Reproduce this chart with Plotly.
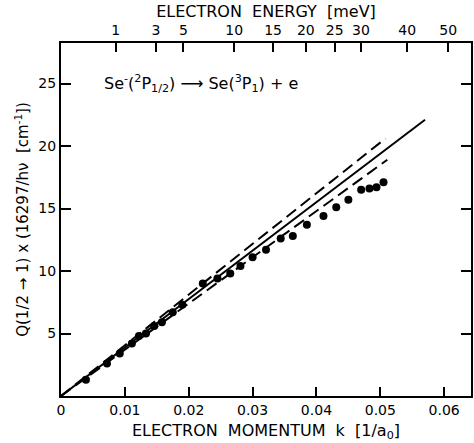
import numpy as np
import plotly.graph_objects as go

# Data
k_pts = [0.0039, 0.0072, 0.0092, 0.0111, 0.0122, 0.0133, 0.0146, 0.0158, 0.0175, 0.0190,
         0.0222, 0.0245, 0.0265, 0.0281, 0.0300, 0.0321, 0.0344, 0.0363, 0.0385, 0.0411,
         0.0431, 0.0450, 0.0470, 0.0483, 0.0494, 0.0505]
q_pts = [1.3, 2.6, 3.4, 4.2, 4.8, 5.0, 5.6, 5.9, 6.7, 7.3,
         9.0, 9.4, 9.8, 10.4, 11.1, 11.7, 12.6, 12.8, 13.7, 14.4,
         15.1, 15.7, 16.5, 16.6, 16.7, 17.1]

solid_k = [0.0, 0.0570]
solid_q = [0.0, 22.1]
dash_hi_k = [0.0, 0.0508]
dash_hi_q = [0.0, 20.6]
dash_lo_k = [0.0, 0.0511]
dash_lo_q = [0.0, 18.9]

energy_ticks = [1, 3, 5, 10, 15, 20, 25, 30, 40, 50]  # meV
HARTREE_MEV = 27211.4
energy_pos = [float(np.sqrt(2 * e / HARTREE_MEV)) for e in energy_ticks]

x_ticks = [0, 0.01, 0.02, 0.03, 0.04, 0.05, 0.06]
x_labels = ["0", "0.01", "0.02", "0.03", "0.04", "0.05", "0.06"]
y_ticks = [5, 10, 15, 20, 25]

FONT = "DejaVu Sans"
XR = [0, 0.0642]
YR = [0, 28.24]

fig = go.Figure()
fig.add_trace(go.Scatter(x=solid_k, y=solid_q, mode="lines",
                         line=dict(color="black", width=2), showlegend=False))
fig.add_trace(go.Scatter(x=dash_hi_k, y=dash_hi_q, mode="lines",
                         line=dict(color="black", width=2, dash="12px,6px"), showlegend=False))
fig.add_trace(go.Scatter(x=dash_lo_k, y=dash_lo_q, mode="lines",
                         line=dict(color="black", width=2, dash="12px,6px"), showlegend=False))
fig.add_trace(go.Scatter(x=k_pts, y=q_pts, mode="markers",
                         marker=dict(color="black", size=8), showlegend=False))
# invisible trace to activate the top axis
fig.add_trace(go.Scatter(x=[0], y=[0], xaxis="x2", mode="markers",
                         marker=dict(opacity=0), showlegend=False, hoverinfo="skip"))

fig.update_layout(
    width=474, height=443,
    margin=dict(l=61, r=1, t=43, b=47),
    plot_bgcolor="white", paper_bgcolor="white",
    font=dict(family=FONT, color="black", size=14),
    xaxis=dict(range=XR, tickvals=x_ticks, ticktext=x_labels,
               ticks="inside", ticklen=9, tickwidth=1.5, tickcolor="black",
               showline=True, linecolor="black", linewidth=2,
               showgrid=False, zeroline=False,
               tickfont=dict(size=14, family=FONT),
               title=dict(text="ELECTRON  MOMENTUM  k  [1/a<sub>0</sub>]",
                          font=dict(size=16, family=FONT), standoff=8)),
    xaxis2=dict(range=XR, overlaying="x", side="top", tickvals=energy_pos,
                ticktext=[str(e) for e in energy_ticks],
                ticks="inside", ticklen=9, tickwidth=1.5, tickcolor="black",
                showline=True, linecolor="black", linewidth=2,
                showgrid=False, zeroline=False,
                tickfont=dict(size=14, family=FONT),
                title=dict(text="ELECTRON  ENERGY  [meV]",
                           font=dict(size=16, family=FONT), standoff=1)),
    yaxis=dict(range=YR, tickvals=y_ticks, ticks="inside", ticklen=10,
               tickwidth=1.5, tickcolor="black", mirror="ticks",
               showline=True, linecolor="black", linewidth=2,
               showgrid=False, zeroline=False,
               tickfont=dict(size=14, family=FONT),
               title=dict(text="Q(1/2 \u2192 1) x (16297/h\u03bd  [cm<sup>-1</sup>])",
                          font=dict(size=15, family=FONT), standoff=6)),
    annotations=[dict(xref="paper", yref="paper", x=0.1, y=0.885,
                      xanchor="left", yanchor="middle", showarrow=False,
                      text="Se<sup>-</sup>(<sup>2</sup>P<sub>1/2</sub>) \u27f6 Se(<sup>3</sup>P<sub>1</sub>) + e",
                      font=dict(size=16, family=FONT))],
)

fig.write_html("out.html")
